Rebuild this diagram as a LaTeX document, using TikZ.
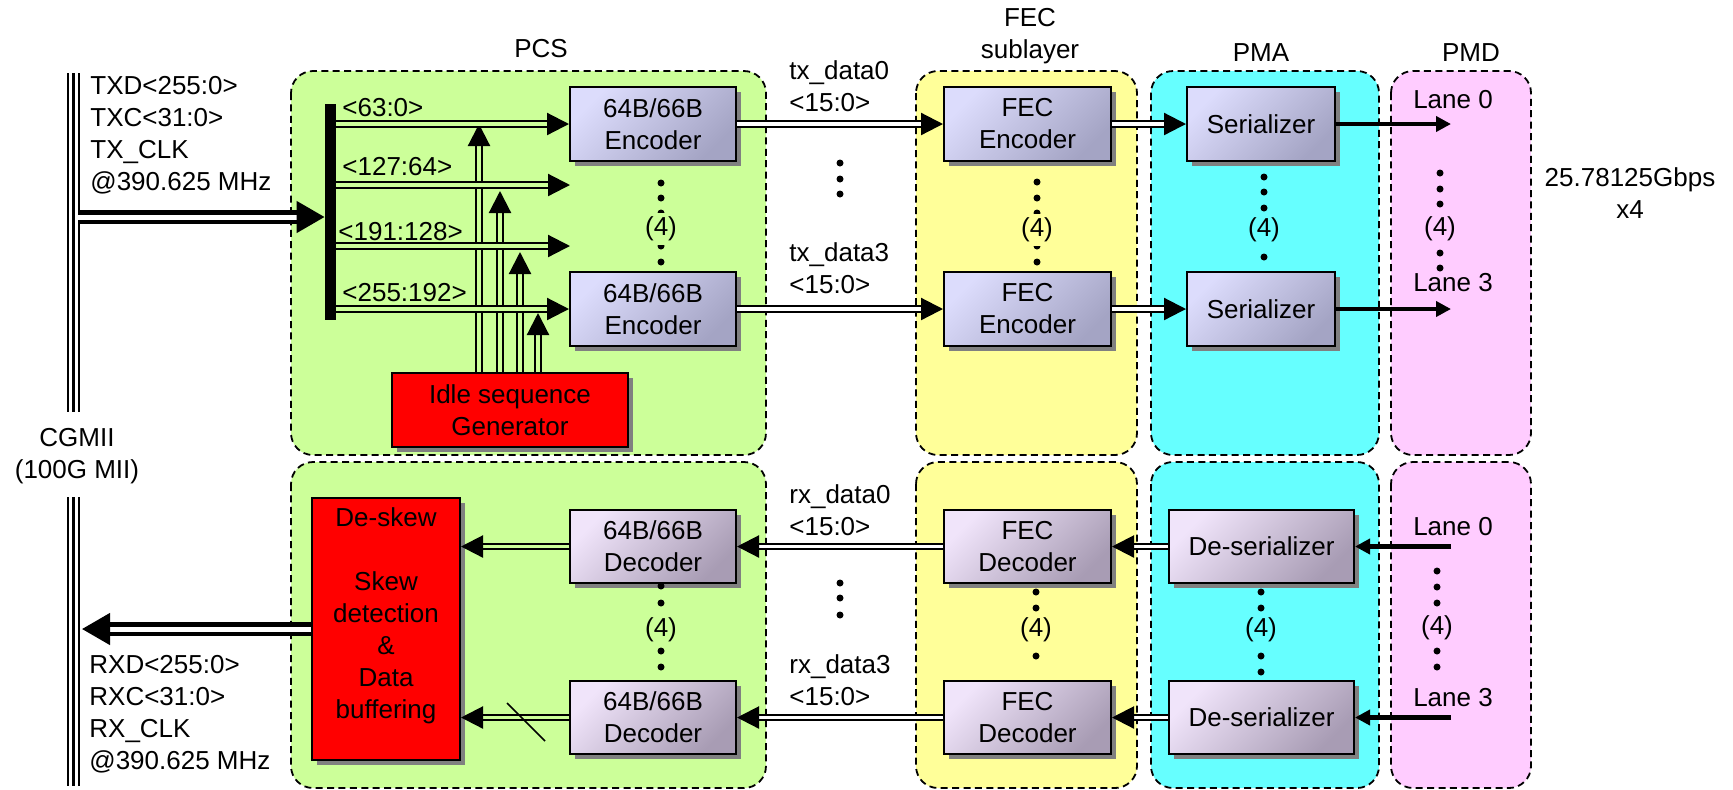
\documentclass[tikz,border=0pt]{standalone}
\usepackage{fontspec}
\setmainfont{Liberation Sans}
\usetikzlibrary{arrows.meta, shadows}
\definecolor{pcsgreen}{HTML}{CCFF99}
\definecolor{fecyellow}{HTML}{FFFF99}
\definecolor{pmacyan}{HTML}{66FFFF}
\definecolor{pmdpink}{HTML}{FFCCFF}
\definecolor{txlight}{HTML}{DCDCFC}
\definecolor{txdark}{HTML}{A4A4C4}
\definecolor{rxlight}{HTML}{F0E4FA}
\definecolor{rxdark}{HTML}{A89CB4}
\definecolor{shade}{HTML}{808080}
\tikzset{%
    region/.style={draw, dash pattern=on 3.5pt off 2.2pt, line width=0.9pt, rounded corners=11pt},
    blk/.style={draw, line width=1pt, align=center, inner sep=0pt, drop shadow={shadow xshift=2.5pt, shadow yshift=-2.5pt, fill=shade, opacity=1}},
    txblk/.style={blk, top color=txlight, bottom color=txdark, shading angle=45},
    rxblk/.style={blk, top color=rxlight, bottom color=rxdark, shading angle=45},
    redblk/.style={blk, fill=red},
    twin/.style={double, line width=1.1pt, double distance=1.6pt, -{Triangle[length=11pt, width=11pt]}},
    fat/.style={double, line width=2.3pt, double distance=2.5pt, -{Triangle[length=14pt, width=15.5pt]}},
    lane/.style={line width=2.2pt, -{Triangle[length=7.5pt, width=7.5pt]}},
    cnt/.style={inner sep=2pt},
}
% column of dots with the lane count
\newcommand{\dotcol}[4]{%
    \foreach \y in {#2} \fill (#1,\y) circle (1.75pt);
    \node[cnt, fill=#4] at (#1,#3) {(4)};
}

\begin{document}
\begin{tikzpicture}[x=0.5pt, y=-0.5pt, font=\fontsize{13}{16}\selectfont, every node/.append style={inner sep=1pt}]
    \useasboundingbox (0,0) rectangle (1733,789);
    % sublayer regions
    \foreach \xa/\xb/\col in {291/766/pcsgreen, 916/1137/fecyellow, 1151/1379/pmacyan, 1391/1531/pmdpink}{
        \draw[region, fill=\col] (\xa,71) rectangle (\xb,455);
        \draw[region, fill=\col] (\xa,462) rectangle (\xb,788);
    }
    \node at (541,49) {PCS};
    \node[align=center] at (1030,36) {FEC\\sublayer};
    \node at (1261,53) {PMA};
    \node at (1471,53) {PMD};
    % CGMII bus
    \foreach \x in {68,73.5,79}
        \draw[line width=1.3pt] (\x,73) -- (\x,412) (\x,497) -- (\x,786);
    \node[align=center] at (77,456) {CGMII\\(100G MII)};
    \node[anchor=west, align=left] at (88,135.5) {TXD<255:0>\\TXC<31:0>\\TX\_CLK\\@390.625 MHz};
    \node[anchor=west, align=left] at (87,714) {RXD<255:0>\\RXC<31:0>\\RX\_CLK\\@390.625 MHz};
    % transmit path
    \node[fill, minimum width=5.5pt, minimum height=108pt, inner sep=0pt] (bar) at (330.5,212) {};
    \node[txblk, minimum width=83pt, minimum height=37pt] (enc0) at (653,124) {64B/66B\\Encoder};
    \node[txblk, minimum width=83pt, minimum height=37pt] (enc3) at (653,309) {64B/66B\\Encoder};
    \node[txblk, minimum width=83.5pt, minimum height=37pt] (fec0) at (1027.5,124) {FEC\\Encoder};
    \node[txblk, minimum width=83.5pt, minimum height=37pt] (fec3) at (1027.5,309) {FEC\\Encoder};
    \node[txblk, minimum width=74pt, minimum height=37pt] (ser0) at (1261,124) {Serializer};
    \node[txblk, minimum width=74pt, minimum height=37pt] (ser3) at (1261,309) {Serializer};
    \node[redblk, minimum width=118pt, minimum height=37pt] (idle) at (510,410) {Idle sequence\\Generator};
    % receive path
    \node[redblk, minimum width=74pt, minimum height=131pt] (deskew) at (386,629) {De-skew\\[16pt]Skew\\detection\\\&\\Data\\buffering\\\mbox{}};
    \node[rxblk, minimum width=83pt, minimum height=36.5pt] (dec0) at (653,546.5) {64B/66B\\Decoder};
    \node[rxblk, minimum width=83pt, minimum height=36.5pt] (dec3) at (653,717.5) {64B/66B\\Decoder};
    \node[rxblk, minimum width=83.5pt, minimum height=36.5pt] (fdec0) at (1027.5,546.5) {FEC\\Decoder};
    \node[rxblk, minimum width=83.5pt, minimum height=36.5pt] (fdec3) at (1027.5,717.5) {FEC\\Decoder};
    \node[rxblk, minimum width=92.5pt, minimum height=36.5pt] (dser0) at (1261.5,546.5) {De-serializer};
    \node[rxblk, minimum width=92.5pt, minimum height=36.5pt] (dser3) at (1261.5,717.5) {De-serializer};
    % connectors, transmit
    \coordinate (txin) at (78,217);
    \coordinate (r1) at (570,185);
    \coordinate (r2) at (570,246);
    \coordinate (lanetip) at (1451,0);
    \coordinate (rxout) at (82,629);
    \draw[fat] (txin) -- (txin -| bar.west);
    \foreach \n/\x/\y in {0/479/124, 1/500/191, 2/520/252, 3/538/313}{
        \coordinate (t\n) at (\x,\y);
        \draw[twin, double=pcsgreen] (idle.north -| t\n) -- (t\n);
    }
    \draw[twin, double=pcsgreen] (bar.east |- enc0.west) -- (enc0.west);
    \draw[twin, double=pcsgreen] (bar.east |- r1) -- (r1);
    \draw[twin, double=pcsgreen] (bar.east |- r2) -- (r2);
    \draw[twin, double=pcsgreen] (bar.east |- enc3.west) -- (enc3.west);
    \foreach \k in {0,3}{
        \draw[twin] (enc\k.east) -- (fec\k.west);
        \draw[twin] (fec\k.east) -- (ser\k.west);
        \draw[lane] (ser\k.east) -- (ser\k.east -| lanetip);
        % connectors, receive
        \draw[lane] (dser\k.east -| lanetip) -- (dser\k.east);
        \draw[twin] (dser\k.west) -- (fdec\k.east);
        \draw[twin] (fdec\k.west) -- (dec\k.east);
        \draw[twin, double=pcsgreen] (dec\k.west) -- (dec\k.west -| deskew.east);
    }
    \draw[fat] (deskew.west |- rxout) -- (rxout);
    \draw[line width=0.8pt] (507,703) -- (545,741);
    % labels
    \node[anchor=west] at (340,108) {<63:0>};
    \node[anchor=west] at (340,167) {<127:64>};
    \node[anchor=west] at (336,232) {<191:128>};
    \node[anchor=west] at (340,293) {<255:192>};
    \node[anchor=west, align=left] at (787,86) {tx\_data0\\<15:0>};
    \node[anchor=west, align=left] at (787,268.5) {tx\_data3\\<15:0>};
    \node[anchor=west, align=left] at (787,510.5) {rx\_data0\\<15:0>};
    \node[anchor=west, align=left] at (787,680.5) {rx\_data3\\<15:0>};
    \node at (1453,100) {Lane 0};
    \node at (1453,283) {Lane 3};
    \node at (1453,527) {Lane 0};
    \node at (1453,698) {Lane 3};
    \node[align=center] at (1630,193) {25.78125Gbps\\x4};
    % lane dots
    \dotcol{661}{183,198,213,246,262}{229}{pcsgreen}
    \dotcol{1037}{182,198,213,246,262}{230}{fecyellow}
    \dotcol{1264}{177,192,208,257}{230}{pmacyan}
    \dotcol{1440}{173,189,204,253,268}{229}{pmdpink}
    \dotcol{661}{586,603,651,667}{630}{pcsgreen}
    \dotcol{1036}{592,608,656}{630}{fecyellow}
    \dotcol{1261}{592,608,656,672}{630}{pmacyan}
    \dotcol{1437}{571,587,603,651,667}{628}{pmdpink}
    \foreach \y in {163,179,194,583,598,615} \fill (840,\y) circle (1.75pt);
\end{tikzpicture}
\end{document}
